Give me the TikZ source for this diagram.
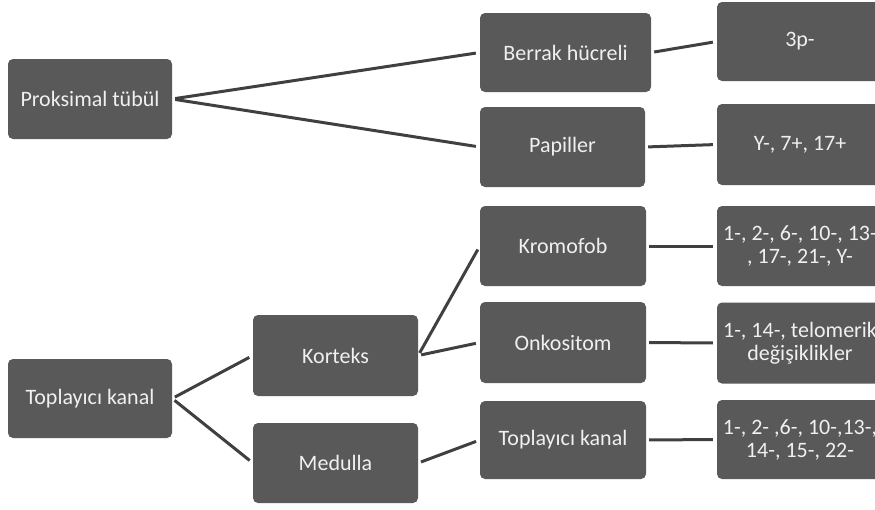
\documentclass[tikz,border=0pt]{standalone}
\usepackage{fontspec}
\setmainfont{Carlito}
\definecolor{boxgray}{HTML}{595959}
\definecolor{linegray}{HTML}{404040}
\definecolor{txt}{HTML}{F0F0F0}
\begin{document}
\begin{tikzpicture}[x=1pt,y=-1pt,
  box/.style={fill=boxgray,rounded corners=5pt,text=txt,align=center,inner sep=0pt,
    font=\fontsize{22}{23}\selectfont},
  link/.style={draw=linegray,line width=3pt,shorten <=3pt,shorten >=4pt}]
\useasboundingbox (0,0) rectangle (875,509);
\clip (0,0) rectangle (875,509);
\node[box,minimum width=164pt,minimum height=80pt] (prox) at (90,99) {Proksimal tübül};
\node[box,minimum width=164pt,minimum height=79pt] (topl) at (90,398.5) {Toplayıcı kanal};
\node[box,minimum width=165pt,minimum height=81pt] (kort) at (335.5,355.5) {Korteks};
\node[box,minimum width=165pt,minimum height=80pt] (med) at (335.5,463) {Medulla};
\node[box,minimum width=171pt,minimum height=79pt] (berr) at (565.5,52.5) {Berrak hücreli};
\node[box,minimum width=165pt,minimum height=80pt] (pap) at (562.5,147) {Papiller};
\node[box,minimum width=166pt,minimum height=80pt] (krom) at (563,246) {Kromofob};
\node[box,minimum width=166pt,minimum height=81pt] (onko) at (563,342.5) {Onkositom};
\node[box,minimum width=166pt,minimum height=78pt] (toplm) at (563,440) {Toplayıcı kanal};
\node[box,minimum width=166pt,minimum height=79pt] (r1) at (800,41.5) {3p-};
\node[box,minimum width=166pt,minimum height=81pt] (r2) at (800,144.5) {Y-, 7+, 17+};
\node[box,minimum width=166pt,minimum height=80pt] (r3) at (800,246) {1-, 2-, 6-, 10-, 13-\\, 17-, 21-, Y-};
\node[box,minimum width=166pt,minimum height=81pt] (r4) at (800,343) {1-, 14-, telomerik\\değişiklikler};
\node[box,minimum width=166pt,minimum height=79pt] (r5) at (800,439.5) {1-, 2- ,6-, 10-,13-,\\14-, 15-, 22-};
\draw[link] (prox.east) -- (berr.west);
\draw[link] (prox.east) -- (pap.west);
\draw[link] (berr.east) -- (r1.west);
\draw[link] (pap.east) -- (r2.west);
\draw[link] (topl.east) -- (kort.west);
\draw[link] (topl.east) -- (med.west);
\draw[link] (kort.east) -- (krom.west);
\draw[link] (kort.east) -- (onko.west);
\draw[link] (med.east) -- (toplm.west);
\draw[link] (krom.east) -- (r3.west);
\draw[link] (onko.east) -- (r4.west);
\draw[link] (toplm.east) -- (r5.west);
\end{tikzpicture}
\end{document}
